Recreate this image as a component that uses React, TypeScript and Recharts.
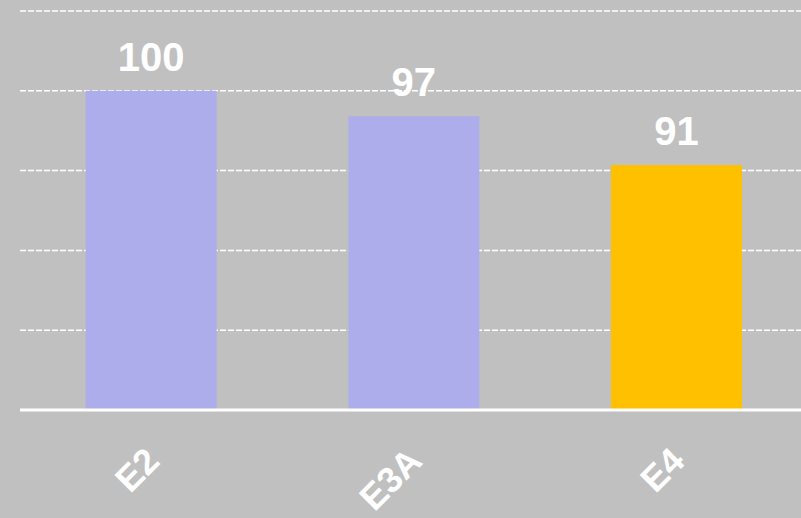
import React from 'react';
import { BarChart, Bar, XAxis, YAxis, CartesianGrid, Cell, LabelList } from 'recharts';

const categories = ['E2', 'E3A', 'E4'];
const values = [100, 96.8, 90.7];
const barColors = ['#ADADEB', '#ADADEB', '#FFC000'];
const yTicks = [60, 70, 80, 90, 100, 110];

const data = categories.map((name, i) => ({ name, value: values[i] }));

const FONT = '"Liberation Sans", Arial, sans-serif';

const AngledTick = ({ x, y, payload }: any) => (
  <text
    transform={`translate(${x + 10},${y + 45}) rotate(-45)`}
    textAnchor="end"
    fill="#fff"
    fontSize={36}
    fontWeight="bold"
    fontFamily={FONT}
  >
    {payload.value}
  </text>
);

const ValueLabel = ({ x, y, width, value }: any) => (
  <text
    x={x + width / 2}
    y={y - 20}
    textAnchor="middle"
    fill="#fff"
    fontSize={40}
    fontWeight="bold"
    fontFamily={FONT}
  >
    {Math.round(value)}
  </text>
);

export default function App() {
  return (
    <div style={{ position: 'absolute', left: 0, top: 0, width: 801, height: 518, background: '#C0C0C0', overflow: 'hidden' }}>
      <BarChart width={810} height={518} data={data} margin={{ top: 11, right: 2, left: 20, bottom: 0 }} barCategoryGap="25%">
        <CartesianGrid stroke="#fff" strokeWidth={1.5} strokeDasharray="6 2" vertical={false} />
        <XAxis
          dataKey="name"
          height={108}
          axisLine={{ stroke: '#fff', strokeWidth: 3 }}
          tickLine={false}
          tick={<AngledTick />}
          interval={0}
        />
        <YAxis hide domain={[60, 110]} ticks={yTicks} />
        <Bar dataKey="value" isAnimationActive={false}>
          {data.map((d, i) => (
            <Cell key={d.name} fill={barColors[i]} />
          ))}
          <LabelList dataKey="value" content={<ValueLabel />} />
        </Bar>
      </BarChart>
    </div>
  );
}
